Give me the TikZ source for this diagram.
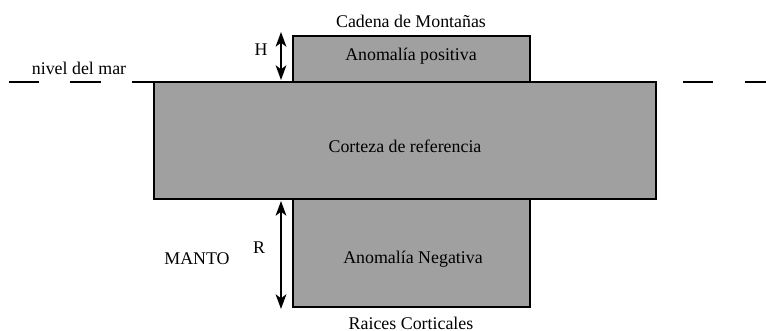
\documentclass[tikz,border=0pt]{standalone}
\usepackage{fontspec}
\setmainfont{Liberation Serif}
\usetikzlibrary{arrows.meta}
\definecolor{boxgray}{HTML}{A0A0A0}
\tikzset{
  blk/.style={draw=black, line width=1.6pt, fill=boxgray},
  lbl/.style={inner sep=0pt, font=\fontsize{13.4}{16}\selectfont},
  dim/.style={line width=1.6pt, {Stealth[length=11pt,width=8pt,inset=3pt]}-{Stealth[length=11pt,width=8pt,inset=3pt]}},
  sea/.style={line width=1.6pt}
}
\begin{document}
\begin{tikzpicture}[x=0.75pt,y=-0.75pt]
\useasboundingbox (0,0) rectangle (766,331);
% blocks
\draw[blk] (154,82) rectangle (656,199);
\draw[blk] (293,36) rectangle (530,82);
\draw[blk] (293,199) rectangle (530,307);
\node[lbl] (top) at (411,56) {Anomalía positiva};
\node[lbl] (mid) at (405,146) {Corteza de referencia};
\node[lbl] (bot) at (413,259) {Anomalía Negativa};
\node[lbl] (cad) at (411,21) {Cadena de Montañas};
\node[lbl] (raic) at (411,323) {Raices Corticales};
\node[lbl] (nivel) at (79,68) {nivel del mar};
\node[lbl] (manto) at (197,259) {MANTO};
\node[lbl] (H) at (261,50) {H};
\node[lbl] (R) at (259,248) {R};
% sea level
\coordinate (s1a) at (9,82); \coordinate (s1b) at (39,82);
\coordinate (s2a) at (70,82); \coordinate (s2b) at (101,82);
\coordinate (s3a) at (132,82); \coordinate (s3b) at (154,82);
\coordinate (s4a) at (683,82); \coordinate (s4b) at (713,82);
\coordinate (s5a) at (745,82); \coordinate (s5b) at (766,82);
\draw[sea] (s1a) -- (s1b);
\draw[sea] (s2a) -- (s2b);
\draw[sea] (s3a) -- (s3b);
\draw[sea] (s4a) -- (s4b);
\draw[sea] (s5a) -- (s5b);
% dimension arrows
\coordinate (h1) at (281,32); \coordinate (h2) at (281,80);
\coordinate (r1) at (281,201); \coordinate (r2) at (281,309);
\draw[dim] (h1) -- (h2);
\draw[dim] (r1) -- (r2);
\end{tikzpicture}
\end{document}
